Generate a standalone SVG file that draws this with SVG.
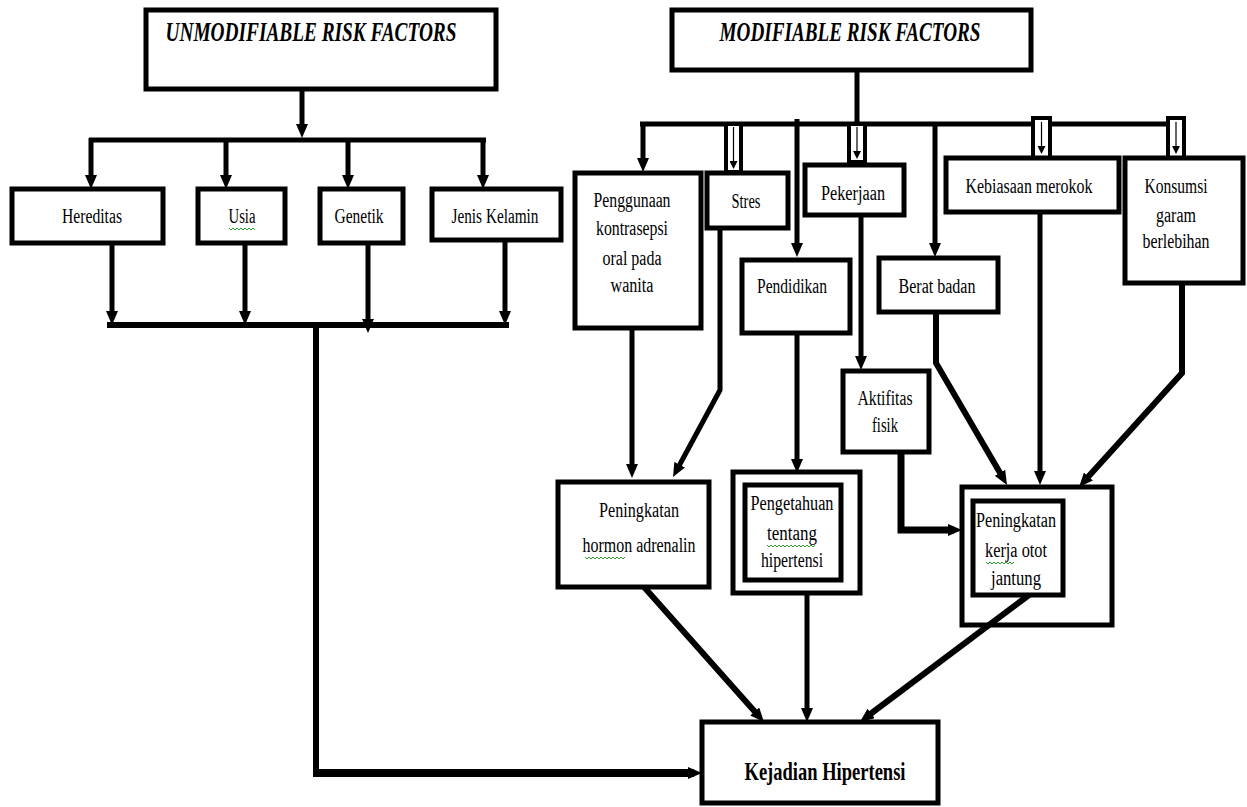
<svg xmlns="http://www.w3.org/2000/svg" width="1247" height="807" viewBox="0 0 1247 807">
<style>
.box{fill:#fff;stroke:#000;stroke-width:5}
.ln{fill:none;stroke:#000;stroke-width:5;stroke-linejoin:miter}
.dg{fill:none;stroke:#000;stroke-width:6}
.tb{fill:#fff;stroke:#000;stroke-width:4}
.thin{fill:none;stroke:#000;stroke-width:1.2}
.t{font-family:"Liberation Serif","Times New Roman",serif;font-size:20.5px;fill:#000;text-anchor:middle}
.title{font-family:"Liberation Serif","Times New Roman",serif;font-size:28px;font-weight:bold;font-style:italic;fill:#000;text-anchor:middle}
.main{font-family:"Liberation Serif","Times New Roman",serif;font-size:26px;font-weight:bold;fill:#000;text-anchor:middle}
.sq{fill:none;stroke:#2a9d2a;stroke-width:1}
</style>
<defs>
<marker id="ah" markerUnits="userSpaceOnUse" markerWidth="14" markerHeight="12" viewBox="0 0 14 12" refX="6" refY="6" orient="auto">
<path d="M0,0 L14,6 L0,12 z" fill="#000"/>
</marker>
<marker id="sh" markerUnits="userSpaceOnUse" markerWidth="8" markerHeight="8" viewBox="0 0 8 8" refX="2" refY="4" orient="auto">
<path d="M0,0 L8,4 L0,8 z" fill="#000"/>
</marker>
</defs>
<rect width="1247" height="807" fill="#fff"/>

<g id="connectors">
<path class="ln" d="M302,89 V130" marker-end="url(#ah)"/>
<path class="ln" d="M89,140 H486"/>
<path class="ln" d="M91,138 V181" marker-end="url(#ah)"/>
<path class="ln" d="M226,140 V181" marker-end="url(#ah)"/>
<path class="ln" d="M348,140 V181" marker-end="url(#ah)"/>
<path class="ln" d="M483,138 V181" marker-end="url(#ah)"/>
<path class="ln" d="M112,243 V317" marker-end="url(#ah)"/>
<path class="ln" d="M245,243 V317" marker-end="url(#ah)"/>
<path class="ln" d="M368,243 V325" marker-end="url(#ah)"/>
<path class="ln" d="M505,240 V317" marker-end="url(#ah)"/>
<path class="ln" d="M107,325 H509" style="stroke-width:6"/>
<path class="ln" d="M316,325 V773" style="stroke-width:6"/>
<path class="ln" d="M313,773 H694" style="stroke-width:8" marker-end="url(#ah)"/>

<path class="ln" d="M857,70 V124"/>
<path class="ln" d="M640,124 H1186"/>
<path class="ln" d="M643,122 V164" marker-end="url(#ah)"/>
<path class="ln" d="M797,119 V249" marker-end="url(#ah)"/>
<path class="ln" d="M935,124 V249" marker-end="url(#ah)"/>

<rect class="tb" x="726" y="124" width="15" height="48"/>
<path class="thin" d="M733.5,127 V163" marker-end="url(#sh)"/>
<rect class="tb" x="849" y="124" width="16" height="40"/>
<rect x="847" y="160" width="20" height="8" fill="#000"/>
<path class="thin" d="M857,127 V153" marker-end="url(#sh)"/>
<rect class="tb" x="1033" y="118" width="17" height="40"/>
<path class="thin" d="M1041.5,122 V148" marker-end="url(#sh)"/>
<rect class="tb" x="1168" y="118" width="16" height="40"/>
<path class="thin" d="M1176,122 V148" marker-end="url(#sh)"/>

<path class="ln" d="M632,328 V470" marker-end="url(#ah)"/>
<path class="ln" d="M720,228 V390 L676.8,470" marker-end="url(#ah)"/>
<path class="ln" d="M797,333 V465" marker-end="url(#ah)"/>
<path class="ln" d="M861,215 V362" marker-end="url(#ah)"/>
<path class="ln" d="M901,452 V530 H954" style="stroke-width:7" marker-end="url(#ah)"/>
<path class="dg" d="M936,312 V363 L1003,478" marker-end="url(#ah)"/>
<path class="ln" d="M1040,212 V477" marker-end="url(#ah)"/>
<path class="dg" d="M1182,283 V373 L1084.4,481" marker-end="url(#ah)"/>
<path class="dg" d="M644,587 L758.7,716" marker-end="url(#ah)"/>
<path class="ln" d="M807,593 V714" marker-end="url(#ah)"/>
</g>

<g id="n-unmod">
<rect class="box" x="146" y="10" width="350" height="79"/>
<text class="title" x="311" y="41" textLength="291" lengthAdjust="spacingAndGlyphs">UNMODIFIABLE RISK FACTORS</text>
</g>
<g id="n-hereditas">
<rect class="box" x="12" y="189" width="151" height="54"/>
<text class="t" x="92" y="223" textLength="60" lengthAdjust="spacingAndGlyphs">Hereditas</text>
</g>
<g id="n-usia">
<rect class="box" x="198" y="189" width="87" height="54"/>
<text class="t" x="242" y="223" textLength="27" lengthAdjust="spacingAndGlyphs">Usia</text>
<path class="sq" d="M229,228 l2,2 l2,-2 l2,2 l2,-2 l2,2 l2,-2 l2,2 l2,-2 l2,2 l2,-2 l2,2 l2,-2 l2,2"/>
</g>
<g id="n-genetik">
<rect class="box" x="320" y="189" width="83" height="54"/>
<text class="t" x="359" y="223" textLength="49" lengthAdjust="spacingAndGlyphs">Genetik</text>
</g>
<g id="n-jenis">
<rect class="box" x="432" y="189" width="129" height="51"/>
<text class="t" x="495" y="223" textLength="87" lengthAdjust="spacingAndGlyphs">Jenis Kelamin</text>
</g>

<g id="n-mod">
<rect class="box" x="672" y="10" width="359" height="60"/>
<text class="title" x="850" y="41" textLength="261" lengthAdjust="spacingAndGlyphs">MODIFIABLE RISK FACTORS</text>
</g>
<g id="n-penggunaan">
<rect class="box" x="575" y="173" width="126" height="155"/>
<text class="t" x="632" y="207" textLength="77" lengthAdjust="spacingAndGlyphs">Penggunaan</text>
<text class="t" x="632" y="235" textLength="72" lengthAdjust="spacingAndGlyphs">kontrasepsi</text>
<text class="t" x="632" y="265" textLength="59" lengthAdjust="spacingAndGlyphs">oral pada</text>
<text class="t" x="632" y="292" textLength="43" lengthAdjust="spacingAndGlyphs">wanita</text>
</g>
<g id="n-stres">
<rect class="box" x="707" y="173" width="81" height="55"/>
<text class="t" x="746" y="208" textLength="29" lengthAdjust="spacingAndGlyphs">Stres</text>
</g>
<g id="n-pendidikan">
<rect class="box" x="742" y="260" width="108" height="73"/>
<text class="t" x="792" y="293" textLength="70" lengthAdjust="spacingAndGlyphs">Pendidikan</text>
</g>
<g id="n-pekerjaan">
<rect class="box" x="805" y="165" width="99" height="50"/>
<text class="t" x="853" y="200" textLength="64" lengthAdjust="spacingAndGlyphs">Pekerjaan</text>
</g>
<g id="n-berat">
<rect class="box" x="879" y="258" width="119" height="54"/>
<text class="t" x="937" y="293" textLength="77" lengthAdjust="spacingAndGlyphs">Berat badan</text>
</g>
<g id="n-kebiasaan">
<rect class="box" x="946" y="158" width="173" height="54"/>
<text class="t" x="1029" y="193" textLength="127" lengthAdjust="spacingAndGlyphs">Kebiasaan merokok</text>
</g>
<g id="n-konsumsi">
<rect class="box" x="1125" y="158" width="118" height="125"/>
<text class="t" x="1176" y="193" textLength="63" lengthAdjust="spacingAndGlyphs">Konsumsi</text>
<text class="t" x="1176" y="222" textLength="40" lengthAdjust="spacingAndGlyphs">garam</text>
<text class="t" x="1176" y="248" textLength="67" lengthAdjust="spacingAndGlyphs">berlebihan</text>
</g>
<g id="n-aktifitas">
<rect class="box" x="843" y="371" width="86" height="81"/>
<text class="t" x="885" y="405" textLength="55" lengthAdjust="spacingAndGlyphs">Aktifitas</text>
<text class="t" x="885" y="432" textLength="26" lengthAdjust="spacingAndGlyphs">fisik</text>
</g>
<g id="n-hormon">
<rect class="box" x="558" y="482" width="151" height="105"/>
<text class="t" x="639" y="517" textLength="80" lengthAdjust="spacingAndGlyphs">Peningkatan</text>
<text class="t" x="639" y="552" textLength="113" lengthAdjust="spacingAndGlyphs">hormon adrenalin</text>
<path class="sq" d="M585,557 l2,2 l2,-2 l2,2 l2,-2 l2,2 l2,-2 l2,2 l2,-2 l2,2 l2,-2 l2,2 l2,-2 l2,2 l2,-2 l2,2 l2,-2 l2,2 l2,-2 l2,2 l2,-2"/>
</g>
<g id="n-pengetahuan">
<rect class="box" x="733" y="472" width="127" height="121"/>
<rect class="box" x="745" y="485" width="96" height="95"/>
<text class="t" x="792" y="510" textLength="83" lengthAdjust="spacingAndGlyphs">Pengetahuan</text>
<text class="t" x="792" y="540" textLength="50" lengthAdjust="spacingAndGlyphs">tentang</text>
<path class="sq" d="M767,545 l2,2 l2,-2 l2,2 l2,-2 l2,2 l2,-2 l2,2 l2,-2 l2,2 l2,-2 l2,2 l2,-2 l2,2 l2,-2 l2,2 l2,-2 l2,2 l2,-2 l2,2 l2,-2 l2,2 l2,-2 l2,2 l2,-2"/>
<text class="t" x="792" y="567" textLength="62" lengthAdjust="spacingAndGlyphs">hipertensi</text>
</g>
<g id="n-kerja">
<rect class="box" x="962" y="487" width="150" height="138"/>
<rect class="box" x="973" y="501" width="90" height="94"/>
<text class="t" x="1016" y="527" textLength="80" lengthAdjust="spacingAndGlyphs">Peningkatan</text>
<text class="t" x="1016" y="557" textLength="62" lengthAdjust="spacingAndGlyphs">kerja otot</text>
<path class="sq" d="M986,562 l2,2 l2,-2 l2,2 l2,-2 l2,2 l2,-2 l2,2 l2,-2 l2,2 l2,-2 l2,2 l2,-2 l2,2 l2,-2"/>
<text class="t" x="1016" y="585" textLength="50" lengthAdjust="spacingAndGlyphs">jantung</text>
</g>
<g id="n-kejadian">
<rect class="box" x="702" y="722" width="236" height="81"/>
<text class="main" x="825" y="780" textLength="161" lengthAdjust="spacingAndGlyphs">Kejadian Hipertensi</text>
</g>

<g id="connectors-top">
<path class="dg" d="M1029,595 L866.4,717" marker-end="url(#ah)"/>
</g>
</svg>
